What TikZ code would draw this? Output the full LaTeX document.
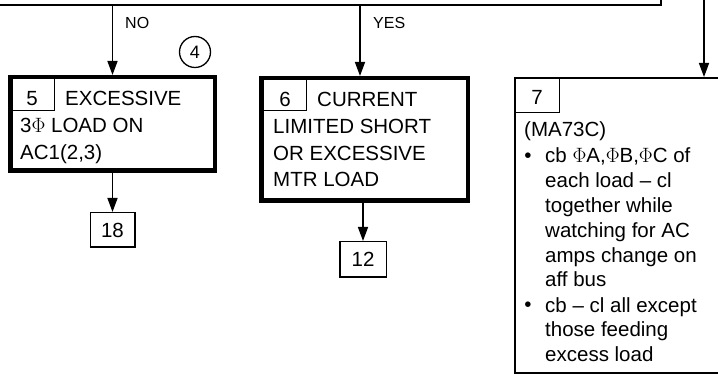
\documentclass[tikz,border=0pt]{standalone}
\usepackage{fontspec}
\setmainfont{Liberation Sans}
\usetikzlibrary{arrows.meta}

\begin{document}
\begin{tikzpicture}[
    x=1pt, y=-1pt,
    box/.style={draw, line width=4.5pt, inner sep=0pt},
    obox/.style={draw, line width=2pt, inner sep=0pt},
    cell/.style={draw, line width=1.3pt, anchor=north west, inner sep=0pt},
    term/.style={draw, line width=1.5pt, inner sep=0pt, font=\fontsize{20.5}{24}\selectfont},
    txt/.style={anchor=base west, align=left, inner sep=0pt, font=\fontsize{20.5}{26.5}\selectfont},
    ltxt/.style={anchor=base west, align=left, inner sep=0pt, font=\fontsize{20.5}{24.8}\selectfont},
    num/.style={anchor=base, inner sep=0pt, font=\fontsize{20.5}{24}\selectfont},
    lbl/.style={anchor=base west, inner sep=0pt, font=\fontsize{16}{19}\selectfont},
    fl/.style={-{Triangle[length=14pt, width=10pt]}, line width=1.5pt}
  ]
    \useasboundingbox (0,0) rectangle (718,382);
    \clip (0,0) rectangle (718,382);

    % --- previous step (cut off at the top) ---
    \node[obox, minimum width=662pt, minimum height=70pt] (prev) at (330,-30) {};
    \coordinate (feed) at (704,-10);
    \coordinate (yesx) at (360,0);

    % --- NO branch ---
    % (multi-line texts sit on the baseline of their last line)
    \node[box, minimum width=204.5pt, minimum height=93.5pt] (b5) at (112.5,124) {};
    \node[cell, minimum width=45.75pt, minimum height=34.75pt] (c5) at (b5.north west) {};
    \node[num] (n5) at (32,106) {5};
    \node[txt] (x5a) at (65,106) {EXCESSIVE};
    \node[txt] (x5b) at (20,159.5) {3$\Phi$ LOAD ON\\AC1(2,3)};
    \node[circle, draw, line width=1.3pt, minimum size=31pt, inner sep=0pt,
      font=\fontsize{18}{20}\selectfont] (r4) at (195,52) {4};
    \node[term, minimum width=44.5pt, minimum height=34.5pt] (t18) at (112.5,230) {18};

    % --- YES branch ---
    \node[box, minimum width=206.5pt, minimum height=122.5pt] (b6) at (364.5,139.5) {};
    \node[cell, minimum width=46.75pt, minimum height=33.75pt] (c6) at (b6.north west) {};
    \node[num] (n6) at (285,107) {6};
    \node[txt] (x6a) at (317,107) {CURRENT};
    \node[txt] (x6b) at (273,187) {LIMITED SHORT\\OR EXCESSIVE\\MTR LOAD};
    \node[term, minimum width=46.5pt, minimum height=35.5pt] (t12) at (363,259.5) {12};

    % --- step 7 ---
    \node[obox, minimum width=226pt, minimum height=295pt] (b7) at (628,225.5) {};
    \node[cell, minimum width=45pt, minimum height=35pt] (c7) at (b7.north west) {};
    \node[num] (n7) at (537,105) {7};
    \node[ltxt] (x7) at (524,137) {(MA73C)};
    \node[num] (d7a) at (528,163) {\textbullet};
    \node[ltxt] (x7a) at (545,287) {cb $\Phi$A,$\Phi$B,$\Phi$C of\\each load -- cl\\together while\\watching for AC\\amps change on\\aff bus};
    \node[num] (d7b) at (528,312) {\textbullet};
    \node[ltxt] (x7b) at (545,361.6) {cb -- cl all except\\those feeding\\excess load};

    % --- connectors ---
    \draw[fl] (prev.south -| b5.north) -- (b5.north);
    \node[lbl] (lno) at (125,29) {NO};
    \draw[fl] (prev.south -| yesx) -- (yesx |- b6.north);
    \node[lbl] (lyes) at (373,29) {YES};
    \draw[fl] (feed) -- (feed |- b7.north);
    \draw[fl] (b5.south) -- (t18.north);
    \draw[fl] (t12.north |- b6.south) -- (t12.north);
\end{tikzpicture}
\end{document}
